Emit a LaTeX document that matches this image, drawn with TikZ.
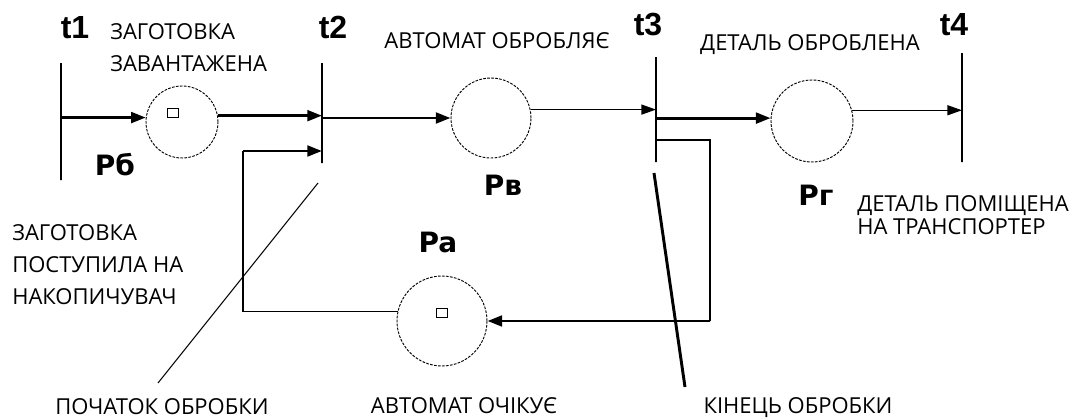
\documentclass[tikz,border=0pt]{standalone}
\usepackage{fontspec}
\setmainfont{Open Sans}
\newfontfamily\pnfont{Liberation Sans}
\newfontfamily\plfont{DejaVu Sans}
\usetikzlibrary{arrows.meta,calc,positioning}

\begin{document}
\begin{tikzpicture}[x=0.75pt,y=-0.75pt,
    trans/.style={draw,line width=1.1pt,rectangle,inner sep=0pt,minimum width=0pt},
    place/.style={draw,circle,line width=0.7pt,dash pattern=on 2pt off 1pt,inner sep=0pt},
    tok/.style={draw,rectangle,line width=0.7pt,inner sep=0pt,minimum width=8.5pt,minimum height=6.5pt},
    flow/.style={line width=2.2pt,-{Triangle[length=11pt,width=8pt]}},
    thinflow/.style={line width=1.1pt,-{Triangle[length=11pt,width=7.5pt]}},
    wire/.style={line width=1.2pt},
    lbl/.style={font=\fontsize{16.5}{24}\selectfont,inner sep=0pt,align=left},
    tname/.style={font=\pnfont\bfseries\fontsize{24}{24}\selectfont,inner sep=0pt,anchor=base},
    pname/.style={font=\plfont\bfseries\fontsize{21}{21}\selectfont,inner sep=0pt,anchor=base}]
    \useasboundingbox (0,0) rectangle (1090,418);
    \begin{scope}[shift={(0,0)}]
        \node[trans,minimum height=87.75pt] (t1) at (61,121.5) {};
        \node[trans,minimum height=75pt] (t2) at (322,113) {};
        \node[trans,minimum height=78.75pt] (t3) at (656,109.5) {};
        \node[trans,minimum height=81.75pt] (t4) at (962,107.5) {};

        \node[tname] (t1name) at (75,38) {t1};
        \node[tname] (t2name) at (333,38) {t2};
        \node[tname] (t3name) at (648,35) {t3};
        \node[tname] (t4name) at (954,35) {t4};

        \node[place,minimum size=54pt] (pb) at (182,122) {};
        \node[place,minimum size=60pt] (pv) at (491,118) {};
        \node[place,minimum size=61.5pt] (pg) at (812,121) {};
        \node[place,minimum size=67.5pt] (pa) at (442,321) {};

        \node[tok] (pbtok) at (173,113) {};
        \node[tok] (patok) at (442,313) {};

        \node[pname] (pbname) at (115,175) {Pб};
        \node[pname] (pvname) at (503,195) {Pв};
        \node[pname] (pgname) at (816,205) {Pг};
        \node[pname] (paname) at (438,252) {Pa};

        \node[lbl,anchor=north west] (zavant) at (110,23) {ЗАГОТОВКА\\ЗАВАНТАЖЕНА};
        \node[lbl,anchor=base] (obrobl) at (497,48) {АВТОМАТ ОБРОБЛЯЄ};
        \node[lbl,anchor=base] (obroblena) at (810,50) {ДЕТАЛЬ ОБРОБЛЕНА};
        \node[lbl,anchor=north west,font=\fontsize{16.5}{17.5}\selectfont] (transp) at (857,195) {ДЕТАЛЬ ПОМІЩЕНА\\НА ТРАНСПОРТЕР};
        \node[lbl,anchor=north west] (nakop) at (12,224) {ЗАГОТОВКА\\ПОСТУПИЛА НА\\НАКОПИЧУВАЧ};
        \node[lbl,anchor=base] (pochatok) at (162,414) {ПОЧАТОК ОБРОБКИ};
        \node[lbl,anchor=base] (ochikue) at (464,413) {АВТОМАТ ОЧІКУЄ};
        \node[lbl,anchor=base] (kinets) at (798,413) {КІНЕЦЬ ОБРОБКИ};

        \coordinate (ret) at (243,151);
        \coordinate (cor1) at (710,140);
        \coordinate (cor2) at (710,321);
        \coordinate (p1) at (318,183);
        \coordinate (p2) at (158,383);
        \coordinate (k1) at (654,173);
        \coordinate (k2) at (685,387);

        \draw[flow] (pb.173 -| t1) -- (pb.173);
        \draw[flow] (pb.10) -- (pb.10 -| t2);
        \draw[flow] (pv.west -| t2) -- (pv.west);
        \draw[thinflow] (pv.12) -- (pv.12 -| t3);
        \draw[flow] (pg.176 -| t3) -- (pg.176);
        \draw[thinflow] (pg.15) -- (pg.15 -| t4);
        \draw[wire] (pa.168) -| (ret);
        \draw[flow] (ret) -- (ret -| t2);
        \draw[wire] (cor1 -| t3) -- (cor1) -- (cor2);
        \draw[flow] (cor2) -- (pa.east);
        \draw[line width=0.8pt] (p2) -- (p1);
        \draw[line width=2.2pt] (k1) -- (k2);
    \end{scope}
\end{tikzpicture}
\end{document}
